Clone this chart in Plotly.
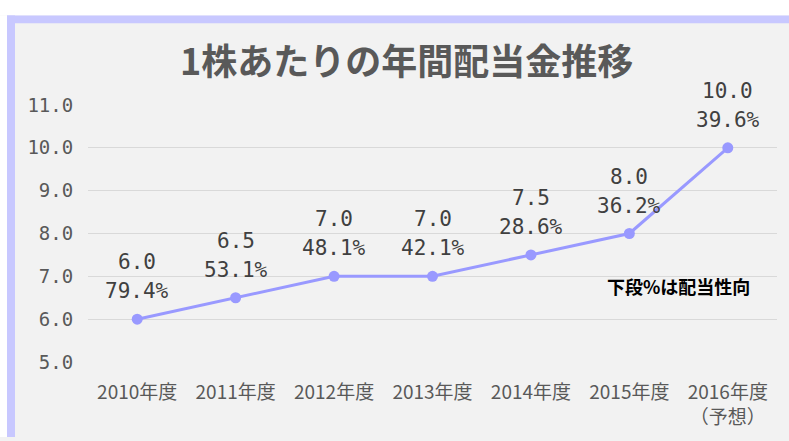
import plotly.graph_objects as go

categories = ["2010年度", "2011年度", "2012年度", "2013年度", "2014年度", "2015年度", "2016年度<br>（予想）"]
dividends = [6.0, 6.5, 7.0, 7.0, 7.5, 8.0, 10.0]
payout_ratio = ["79.4%", "53.1%", "48.1%", "42.1%", "28.6%", "36.2%", "39.6%"]
y_ticks = [5.0, 6.0, 7.0, 8.0, 9.0, 10.0, 11.0]
y_tick_labels = ["5.0", "6.0", "7.0", "8.0", "9.0", "10.0", "11.0"]

W, H = 789, 441
ML, MR, MT, MB = 88, 12, 105, 72
PW, PH = W - ML - MR, H - MT - MB

def px_x(px):
    return (px - ML) / PW

def px_y(py):
    return (H - MB - py) / PH

fig = go.Figure()
fig.add_trace(go.Scatter(
    x=categories, y=dividends, mode="lines+markers",
    line=dict(color="#9999ff", width=3),
    marker=dict(color="#9999ff", size=11),
    cliponaxis=False, hoverinfo="skip", showlegend=False,
))

label_font = dict(family="DejaVu Sans Mono", size=21, color="#404040")
annotations = []
for c, v, p in zip(categories, dividends, payout_ratio):
    annotations.append(dict(x=c, y=v, xref="x", yref="y", text=f"{v:.1f}", showarrow=False,
                            yshift=57, xanchor="center", yanchor="middle", font=label_font))
    annotations.append(dict(x=c, y=v, xref="x", yref="y", text=p, showarrow=False,
                            yshift=28, xanchor="center", yanchor="middle", font=label_font))

annotations.append(dict(x=px_x(406), y=px_y(58), xref="paper", yref="paper",
                        xanchor="center", yanchor="middle",
                        text="<b>1株あたりの年間配当金推移</b>", showarrow=False,
                        font=dict(family="Noto Sans CJK JP", size=36, color="#595959")))
annotations.append(dict(x=px_x(678), y=px_y(291), xref="paper", yref="paper",
                        xanchor="center", yanchor="middle",
                        text="<b>下段%は配当性向</b>", showarrow=False,
                        font=dict(family="Noto Sans CJK JP", size=18, color="#000000")))

shapes = [
    dict(type="rect", xref="paper", yref="paper", x0=px_x(-5), x1=px_x(W + 5),
         y0=px_y(13), y1=px_y(-5), fillcolor="#ffffff", line=dict(width=0), layer="below"),
    dict(type="rect", xref="paper", yref="paper", x0=px_x(-5), x1=px_x(7),
         y0=px_y(H + 5), y1=px_y(13), fillcolor="#ffffff", line=dict(width=0), layer="below"),
    dict(type="rect", xref="paper", yref="paper", x0=px_x(7), x1=px_x(W + 5),
         y0=px_y(21), y1=px_y(13), fillcolor="#c8c8ff", line=dict(width=0), layer="below"),
    dict(type="rect", xref="paper", yref="paper", x0=px_x(7), x1=px_x(15),
         y0=px_y(H + 5), y1=px_y(13), fillcolor="#c8c8ff", line=dict(width=0), layer="below"),
]

fig.update_layout(
    width=W, height=H,
    margin=dict(l=ML, r=MR, t=MT, b=MB),
    paper_bgcolor="#f2f2f2", plot_bgcolor="#f2f2f2",
    annotations=annotations, shapes=shapes,
    xaxis=dict(range=[-0.5, len(categories) - 0.5], showgrid=False, zeroline=False,
               showline=False, ticks="outside", ticklen=13,
               tickcolor="rgba(0,0,0,0)",
               tickfont=dict(family="Noto Sans CJK JP", size=19, color="#595959")),
    yaxis=dict(range=[5, 11], tickvals=y_ticks, ticktext=y_tick_labels,
               showgrid=True, gridcolor="#d9d9d9", gridwidth=1, zeroline=False, showline=False,
               ticks="outside", ticklen=10, tickcolor="rgba(0,0,0,0)",
               tickfont=dict(family="DejaVu Sans Mono", size=19, color="#595959")),
)

fig.write_html(
    "out.html",
    config={"displayModeBar": False},
    post_script=(
        "var de=document.documentElement, b=document.body;"
        "de.style.margin='0'; de.style.padding='0'; de.style.overflow='hidden';"
        "b.style.margin='0'; b.style.padding='0'; b.style.overflow='hidden';"
    ),
)
